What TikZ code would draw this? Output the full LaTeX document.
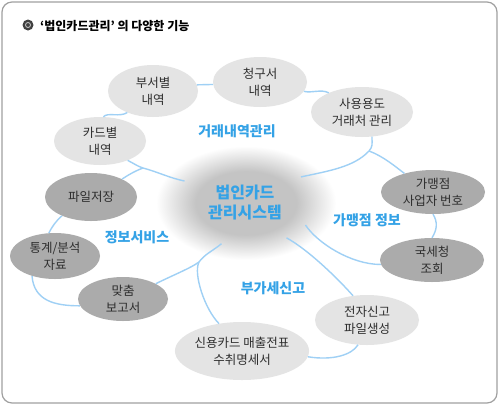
\documentclass[tikz,border=0pt]{standalone}
\usepackage{fontspec}
\usetikzlibrary{shapes.geometric}
\newfontfamily\kr{Noto Sans CJK KR}
\definecolor{lightell}{HTML}{E4E4E4}
\definecolor{darkell}{HTML}{ABABAB}
\definecolor{conn}{HTML}{9FD0F5}
\definecolor{catblue}{HTML}{34A2E6}
\definecolor{txt}{HTML}{2E2E2E}
\definecolor{blobc}{HTML}{C4C4C4}
\definecolor{framec}{HTML}{A0A0A0}
\pgfdeclareradialshading{blobshade}{\pgfpoint{0bp}{0bp}}{color(0bp)=(blobc); color(14bp)=(blobc); color(25bp)=(white); color(50bp)=(white)}
\begin{document}
\begin{tikzpicture}[x=1pt,y=-1pt,
  ell/.style={ellipse, inner sep=0pt, align=center, text=txt,
    font=\kr\fontsize{12.5}{17}\selectfont},
  lite/.style={ell, fill=lightell},
  dark/.style={ell, fill=darkell},
  cat/.style={text=catblue, font=\kr\bfseries\fontsize{14}{16}\selectfont},
  conline/.style={draw=conn, line width=1.4pt}]
\useasboundingbox (0,0) rectangle (500,405);
\draw[framec, line width=1.2pt, fill=white, rounded corners=10pt] (2,2) rectangle (497,403);
% title
\fill[black!75] (28,25) circle (5.5pt);
\draw[white!80!black, line width=0.8pt] (28,25) circle (2.5pt);
\node[anchor=west, font=\kr\bfseries\fontsize{12}{14}\selectfont, inner sep=0pt] (title) at (40,26) {‘법인카드관리’ 의 다양한 기능};
% blob
\shade[shading=blobshade] (246,203) ellipse [x radius=90pt, y radius=57pt];
\node[ellipse, minimum width=140pt, minimum height=86pt, inner sep=0pt, align=center,
  text=catblue, font=\kr\bfseries\fontsize{16}{20}\selectfont] (blob) at (245,203) {법인카드\\관리시스템};
% nodes
\node[lite, minimum width=90pt, minimum height=52pt] (dept) at (153,91) {부서별\\내역};
\node[lite, minimum width=94pt, minimum height=50pt] (bill) at (260,82) {청구서\\내역};
\node[lite, minimum width=102pt, minimum height=50pt] (usage) at (362,112) {사용용도\\거래처 관리};
\node[lite, minimum width=92pt, minimum height=48pt] (card) at (100,141) {카드별\\내역};
\node[dark, minimum width=92pt, minimum height=48pt] (file) at (91,197) {파일저장};
\node[dark, minimum width=90pt, minimum height=46pt] (stat) at (55,256) {통계/분석\\자료};
\node[dark, minimum width=90pt, minimum height=44pt] (report) at (123,299) {맞춤\\보고서};
\node[dark, minimum width=104pt, minimum height=44pt] (shop) at (433,192) {가맹점\\사업자 번호};
\node[dark, minimum width=104pt, minimum height=44pt] (tax) at (432,260) {국세청\\조회};
\node[lite, minimum width=104pt, minimum height=50pt] (efile) at (367,320) {전자신고\\파일생성};
\node[lite, minimum width=130pt, minimum height=58pt] (credit) at (242,351) {신용카드 매출전표\\수취명세서};
% category labels
\node[cat] (c1) at (237,131) {거래내역관리};
\node[cat] (c2) at (137,237) {정보서비스};
\node[cat] (c3) at (367,220) {가맹점 정보};
\node[cat] (c4) at (273,288) {부가세신고};
% branch points
\coordinate (b1) at (369,151);
\coordinate (b2) at (199,262);
\coordinate (b3) at (143,168);
% connectors
\path[conline] (card.82) .. controls +(4,-5) and +(-8,5) .. (dept.220);
\path[conline] (dept.8) .. controls +(8,-1) and +(-8,0) .. (bill.183);
\path[conline] (bill.-12) .. controls +(8,2) and +(-8,-4) .. (usage.150);
\path[conline] (usage.292) .. controls +(0,8) and +(4,-5) .. (b1) .. controls +(-15,16) and +(28,-6) .. (blob.25);
\path[conline] (b1) .. controls +(14,5) and +(-8,-6) .. (shop.147);
\path[conline] (shop.south) .. controls +(5,8) and +(5,-8) .. (tax.north);
\path[conline] (blob.-20) .. controls +(12,18) and +(-30,0) .. (tax.185);
\path[conline] (blob.-40) .. controls +(22,12) and +(-14,-16) .. (efile.120);
\path[conline] (blob.240) .. controls +(-10,8) and +(6,-8) .. (b2) .. controls +(-6,12) and +(-14,-14) .. (credit.130);
\path[conline] (report.25) .. controls +(16,-8) and +(-8,6) .. (b2);
\path[conline] (credit.-5) .. controls +(25,4) and +(-6,10) .. (efile.250);
\path[conline] (card.-35) .. controls +(6,3) and +(-6,-2) .. (b3) .. controls +(15,4) and +(-15,-3) .. (blob.160);
\path[conline] (b3) .. controls +(-8,3) and +(6,-4) .. (file.30);
\path[conline] (file.213) .. controls +(-6,5) and +(3,-6) .. (stat.105);
\path[conline] (stat.221) .. controls +(2,25) and +(-25,0) .. (report.189);
\end{tikzpicture}
\end{document}
